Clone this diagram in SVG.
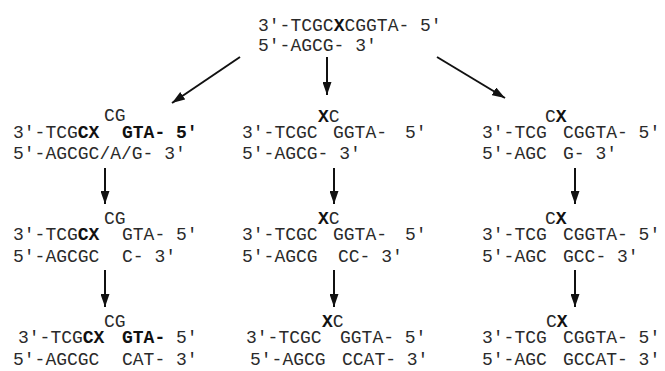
<svg xmlns="http://www.w3.org/2000/svg" width="665" height="371" viewBox="0 0 665 371">
<style>
.t{font-family:"Liberation Mono","Courier New",monospace;font-size:18px;fill:#2a2a2a}
.b{font-weight:bold;fill:#111}
.a{stroke:#111;stroke-width:2;fill:none}
</style>
<defs>
<marker id="ah" viewBox="0 0 13 9" refX="13" refY="4.5" markerWidth="13" markerHeight="9" markerUnits="userSpaceOnUse" orient="auto">
<path d="M0,0 L13,4.5 L0,9 z" fill="#111"/>
</marker>
</defs>
<rect width="665" height="371" fill="#fff"/>
<g id="top">
<text class="t" x="258" y="31">3′-TCGC<tspan class="b">X</tspan>CGGTA- 5′</text>
<text class="t" x="258" y="51">5′-AGCG- 3′</text>
</g>
<g id="left1">
<text class="t" x="104" y="121">CG</text>
<text class="t" x="13" y="138">3′-TCG<tspan class="b">CX</tspan></text>
<text class="t b" x="122" y="138">GTA- 5′</text>
<text class="t" x="13" y="159">5′-AGCGC/A/G- 3′</text>
</g>
<g id="mid1">
<text class="t" x="318" y="122"><tspan class="b">X</tspan>C</text>
<text class="t" x="242" y="138">3′-TCGC</text>
<text class="t" x="333" y="138">GGTA-</text>
<text class="t" x="405" y="138">5′</text>
<text class="t" x="242" y="159">5′-AGCG- 3′</text>
</g>
<g id="right1">
<text class="t" x="545" y="122">C<tspan class="b">X</tspan></text>
<text class="t" x="482" y="138">3′-TCG</text>
<text class="t" x="563" y="138">CGGTA- 5′</text>
<text class="t" x="482" y="159">5′-AGC</text>
<text class="t" x="563" y="159">G- 3′</text>
</g>
<g id="left2">
<text class="t" x="104" y="224">CG</text>
<text class="t" x="13" y="240">3′-TCG<tspan class="b">CX</tspan></text>
<text class="t" x="122" y="240">GTA- 5′</text>
<text class="t" x="13" y="262">5′-AGCGC</text>
<text class="t" x="122" y="262">C- 3′</text>
</g>
<g id="mid2">
<text class="t" x="318" y="224"><tspan class="b">X</tspan>C</text>
<text class="t" x="242" y="240">3′-TCGC</text>
<text class="t" x="333" y="240">GGTA-</text>
<text class="t" x="405" y="240">5′</text>
<text class="t" x="242" y="262">5′-AGCG</text>
<text class="t" x="338" y="262">CC- 3′</text>
</g>
<g id="right2">
<text class="t" x="545" y="224">C<tspan class="b">X</tspan></text>
<text class="t" x="482" y="240">3′-TCG</text>
<text class="t" x="563" y="240">CGGTA- 5′</text>
<text class="t" x="482" y="262">5′-AGC</text>
<text class="t" x="563" y="262">GCC- 3′</text>
</g>
<g id="left3">
<text class="t" x="104" y="327">CG</text>
<text class="t" x="18" y="343">3′-TCG<tspan class="b">CX</tspan></text>
<text class="t" x="122" y="343"><tspan class="b">GTA-</tspan> 5′</text>
<text class="t" x="13" y="365">5′-AGCGC</text>
<text class="t" x="122" y="365">CAT- 3′</text>
</g>
<g id="mid3">
<text class="t" x="322" y="327"><tspan class="b">X</tspan>C</text>
<text class="t" x="246" y="343">3′-TCGC</text>
<text class="t" x="340" y="343">GGTA- 5′</text>
<text class="t" x="250" y="365">5′-AGCG</text>
<text class="t" x="342" y="365">CCAT- 3′</text>
</g>
<g id="right3">
<text class="t" x="546" y="327">C<tspan class="b">X</tspan></text>
<text class="t" x="482" y="343">3′-TCG</text>
<text class="t" x="563" y="343">CGGTA- 5′</text>
<text class="t" x="482" y="365">5′-AGC</text>
<text class="t" x="563" y="365">GCCAT- 3′</text>
</g>
<g id="connectors">
<line class="a" x1="240" y1="57" x2="172" y2="103" marker-end="url(#ah)"/>
<line class="a" x1="327" y1="57" x2="327" y2="95" marker-end="url(#ah)"/>
<line class="a" x1="437" y1="57" x2="505" y2="98" marker-end="url(#ah)"/>
<line class="a" x1="105" y1="168" x2="105" y2="204" marker-end="url(#ah)"/>
<line class="a" x1="334" y1="168" x2="334" y2="204" marker-end="url(#ah)"/>
<line class="a" x1="575" y1="168" x2="575" y2="204" marker-end="url(#ah)"/>
<line class="a" x1="105" y1="270" x2="105" y2="307" marker-end="url(#ah)"/>
<line class="a" x1="334" y1="270" x2="334" y2="307" marker-end="url(#ah)"/>
<line class="a" x1="575" y1="270" x2="575" y2="307" marker-end="url(#ah)"/>
</g>
</svg>
